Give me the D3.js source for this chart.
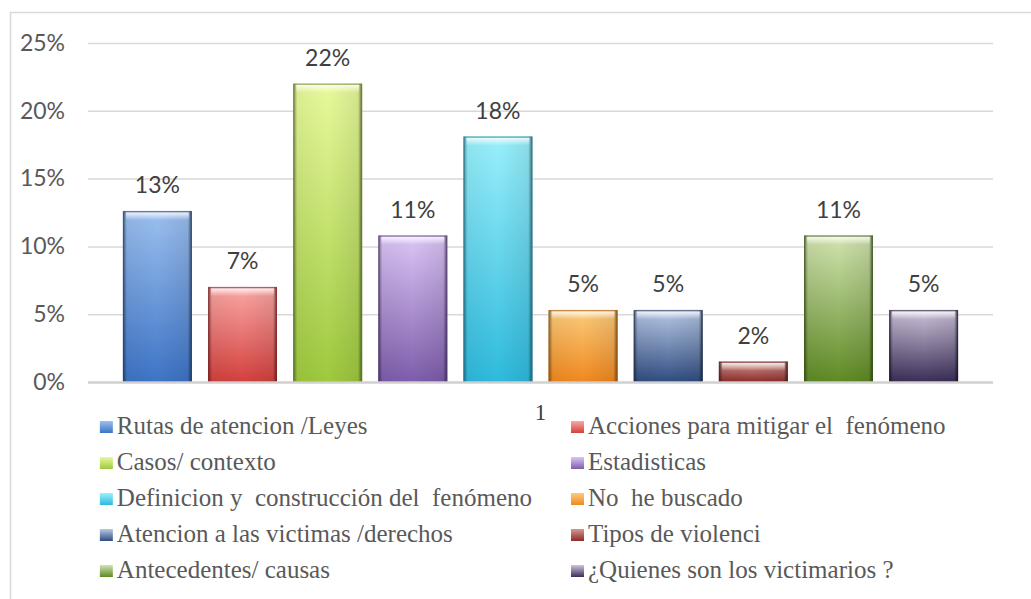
<!DOCTYPE html>
<html>
<head>
<meta charset="utf-8">
<script src="https://cdn.jsdelivr.net/npm/d3@7"></script>
<style>
  body { margin: 0; background: #fff; }
  svg { display: block; }
  text { white-space: pre; }
</style>
</head>
<body>
<svg id="chart" width="1031" height="599"></svg>
<script>
// data
const categories = ["1"];
const seriesNames = [
  "Rutas de atencion /Leyes",
  "Acciones para mitigar el  fenómeno",
  "Casos/ contexto",
  "Estadisticas",
  "Definicion y  construcción del  fenómeno",
  "No  he buscado",
  "Atencion a las victimas /derechos",
  "Tipos de violenci",
  "Antecedentes/ causas",
  "¿Quienes son los victimarios ?"
];
const values = [0.126, 0.070, 0.220, 0.108, 0.181, 0.053, 0.053, 0.015, 0.108, 0.053];
const yTicks = [0, 0.05, 0.10, 0.15, 0.20, 0.25];

// light top / dark bottom / edge colour per series
const colors = [
  ["#9cc0f0", "#3d74c6", "#23457e"],
  ["#fba8a6", "#d3403d", "#8e2322"],
  ["#e8fa9c", "#9ec93e", "#66832a"],
  ["#dcc6f6", "#7d5cab", "#55397d"],
  ["#9af0fc", "#2ebadd", "#1f7f98"],
  ["#fccc7c", "#f0881e", "#a85a10"],
  ["#b8c9e6", "#2f4c80", "#1c2d4e"],
  ["#d49893", "#8c2c29", "#5a1a18"],
  ["#d2e4b0", "#5e8a24", "#3c5a14"],
  ["#cfc4dc", "#3b2d57", "#1e1530"]
];

const svg = d3.select("#chart");
const plot = { left: 88, right: 993, top: 43, bottom: 382 };
const sans = "Lato, 'Open Sans', sans-serif";
const serif = "'Liberation Serif', 'DejaVu Serif', serif";

const y = d3.scaleLinear().domain([0, 0.25]).range([plot.bottom, plot.top]);
const x0 = d3.scaleBand().domain(categories).range([plot.left, plot.right]).padding(0);
const x1 = d3.scaleBand().domain(d3.range(values.length))
  .range([0, x0.bandwidth()]).paddingInner(0.19).paddingOuter(0.41);

// frame (only top and left visible)
svg.append("line").attr("x1", 10).attr("x2", 1031).attr("y1", 12.5).attr("y2", 12.5)
  .attr("stroke", "#d9d9d9").attr("stroke-width", 1.5);
svg.append("line").attr("x1", 10.5).attr("x2", 10.5).attr("y1", 12).attr("y2", 599)
  .attr("stroke", "#d9d9d9").attr("stroke-width", 1.5);

const defs = svg.append("defs");
colors.forEach((c, i) => {
  const g = defs.append("linearGradient").attr("id", "v" + i)
    .attr("x1", 0).attr("x2", 0).attr("y1", 0).attr("y2", 1);
  g.append("stop").attr("offset", "0%").attr("stop-color", c[0]);
  g.append("stop").attr("offset", "100%").attr("stop-color", c[1]);
});
const hg = defs.append("linearGradient").attr("id", "edge")
  .attr("x1", 0).attr("x2", 1).attr("y1", 0).attr("y2", 0);
[[0, 0.45], [0.06, 0.05], [0.5, 0], [0.94, 0.08], [1, 0.55]].forEach(s =>
  hg.append("stop").attr("offset", s[0]).attr("stop-color", "#000").attr("stop-opacity", s[1]));
const tg = defs.append("linearGradient").attr("id", "topb")
  .attr("x1", 0).attr("x2", 0).attr("y1", 0).attr("y2", 1);
tg.append("stop").attr("offset", 0).attr("stop-color", "#fff").attr("stop-opacity", 0.85);
tg.append("stop").attr("offset", 1).attr("stop-color", "#fff").attr("stop-opacity", 0);

// gridlines via axis
const yAxis = d3.axisLeft(y).tickValues(yTicks).tickFormat(d3.format(".0%"))
  .tickSize(-(plot.right - plot.left)).tickPadding(23);
const ga = svg.append("g").attr("transform", `translate(${plot.left},0)`).call(yAxis);
ga.select(".domain").remove();
ga.selectAll(".tick line").attr("stroke", "#d9d9d9").attr("stroke-width", 1.5);
ga.selectAll(".tick text").attr("fill", "#595959")
  .style("font-family", sans).style("font-size", "23px");
ga.selectAll(".tick").filter(d => d === 0).select("line").attr("stroke-opacity", 0);

// bars
const bars = svg.append("g").attr("transform", `translate(${x0("1")},0)`);
values.forEach((v, i) => {
  const bx = x1(i), bw = x1.bandwidth(), by = y(v), bh = y(0) - y(v);
  const g = bars.append("g");
  g.append("rect").attr("x", bx).attr("y", by).attr("width", bw).attr("height", bh)
    .attr("fill", `url(#v${i})`);
  g.append("rect").attr("x", bx).attr("y", by).attr("width", bw).attr("height", bh)
    .attr("fill", "url(#edge)");
  g.append("rect").attr("x", bx + 3).attr("y", by + 1).attr("width", bw - 6).attr("height", Math.min(8, bh - 1))
    .attr("fill", "url(#topb)");
  g.append("rect").attr("x", bx + 0.75).attr("y", by + 0.5).attr("width", bw - 1.5).attr("height", bh - 0.5)
    .attr("fill", "none").attr("stroke", colors[i][2]).attr("stroke-opacity", 0.55).attr("stroke-width", 1.5);
  g.append("text").attr("x", bx + bw / 2).attr("y", by - 18).attr("text-anchor", "middle")
    .attr("fill", "#404040").style("font-family", sans).style("font-size", "23px")
    .text(d3.format(".0%")(v));
});

// baseline
svg.append("line").attr("x1", plot.left).attr("x2", plot.right)
  .attr("y1", plot.bottom + 0.5).attr("y2", plot.bottom + 0.5)
  .attr("stroke", "#d0d0d0").attr("stroke-width", 2.5);

// category label
svg.append("text").attr("x", x0("1") + x0.bandwidth() / 2).attr("y", 420)
  .attr("text-anchor", "middle").attr("fill", "#404040")
  .style("font-family", serif).style("font-size", "23px").text(categories[0]);

// legend: second column starts at 588, first column ends near 532
const legend = svg.append("g");
const items = seriesNames.map((name, i) => {
  const t = legend.append("text").attr("y", 434 + Math.floor(i / 2) * 36)
    .attr("fill", "#595959").style("font-family", serif).style("font-size", "25px").text(name);
  return t;
});
const col1w = d3.max(items.filter((t, i) => i % 2 === 0), t => t.node().getComputedTextLength());
const col1x = 532 - col1w;
items.forEach((t, i) => {
  const tx = i % 2 === 0 ? col1x : 588;
  t.attr("x", tx);
  legend.append("rect").attr("x", tx - 17).attr("y", 421 + Math.floor(i / 2) * 36)
    .attr("width", 13).attr("height", 12).attr("fill", `url(#v${i})`);
});
</script>
</body>
</html>
